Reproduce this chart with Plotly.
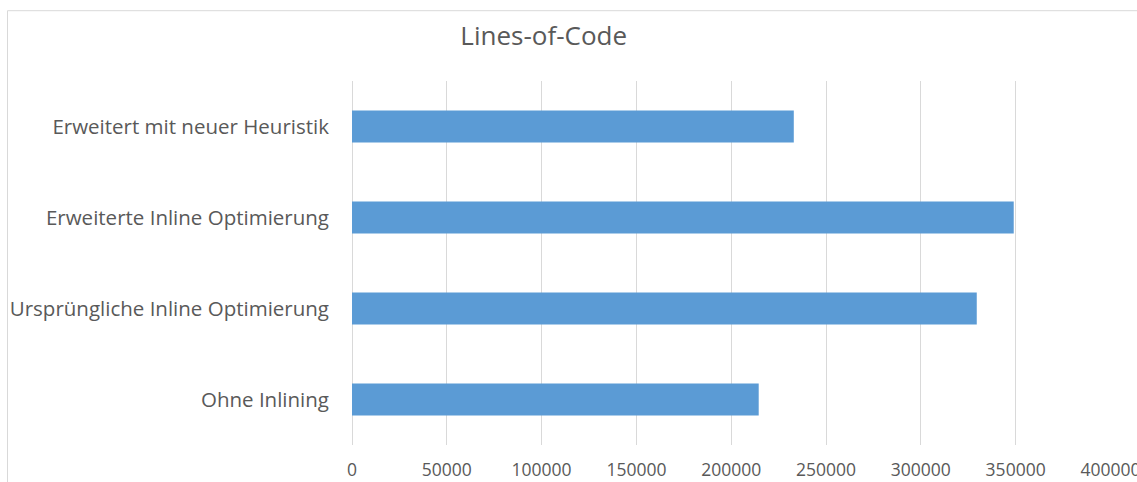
import plotly.graph_objects as go

categories = [
    "Ohne Inlining",
    "Ursprüngliche Inline Optimierung",
    "Erweiterte Inline Optimierung",
    "Erweitert mit neuer Heuristik",
]
values = [214500, 329500, 349000, 233000]
tick_values = [0, 50000, 100000, 150000, 200000, 250000, 300000, 350000, 400000]
tick_labels = [str(v) for v in tick_values]

W, H = 1137, 482
FONT = "Open Sans"
TXT = "#595959"
GRID = "#D9D9D9"

fig = go.Figure(
    go.Bar(
        y=categories,
        x=values,
        orientation="h",
        width=0.35,
        marker=dict(color="#5B9BD5", line=dict(width=0)),
        hoverinfo="x+y",
    )
)

fig.update_layout(
    width=W,
    height=H,
    margin=dict(l=352, r=26, t=81, b=37, pad=0, autoexpand=False),
    paper_bgcolor="white",
    plot_bgcolor="white",
    showlegend=False,
    title=dict(
        text="Lines-of-Code",
        x=543.7 / W,
        xanchor="center",
        y=1 - 36 / H,
        yanchor="middle",
        font=dict(family=FONT, size=26, color=TXT),
    ),
    font=dict(family=FONT, color=TXT),
)

fig.update_xaxes(
    range=[0, 400300],
    tickvals=tick_values,
    ticktext=tick_labels,
    automargin=False,
    showgrid=True,
    gridcolor=GRID,
    gridwidth=1,
    zeroline=True,
    zerolinecolor=GRID,
    zerolinewidth=1,
    showline=False,
    ticks="",
    ticklabelstandoff=12,
    ticklabeloverflow="allow",
    tickfont=dict(family=FONT, size=17.5, color=TXT),
)
fig.update_yaxes(
    automargin=False,
    showgrid=False,
    zeroline=False,
    showline=False,
    ticks="",
    ticklabelstandoff=22,
    tickfont=dict(family=FONT, size=20.5, color=TXT),
)

# chart frame border (Excel-style chart area outline)
fig.add_shape(
    type="rect",
    xref="paper",
    yref="paper",
    x0=(7.5 - 352) / (W - 352 - 26),
    x1=1.1,
    y0=-0.3,
    y1=1 + (81 - 10.7) / (H - 81 - 37),
    line=dict(color=GRID, width=1),
    fillcolor="rgba(0,0,0,0)",
    layer="below",
)

fig.write_html("out.html")
